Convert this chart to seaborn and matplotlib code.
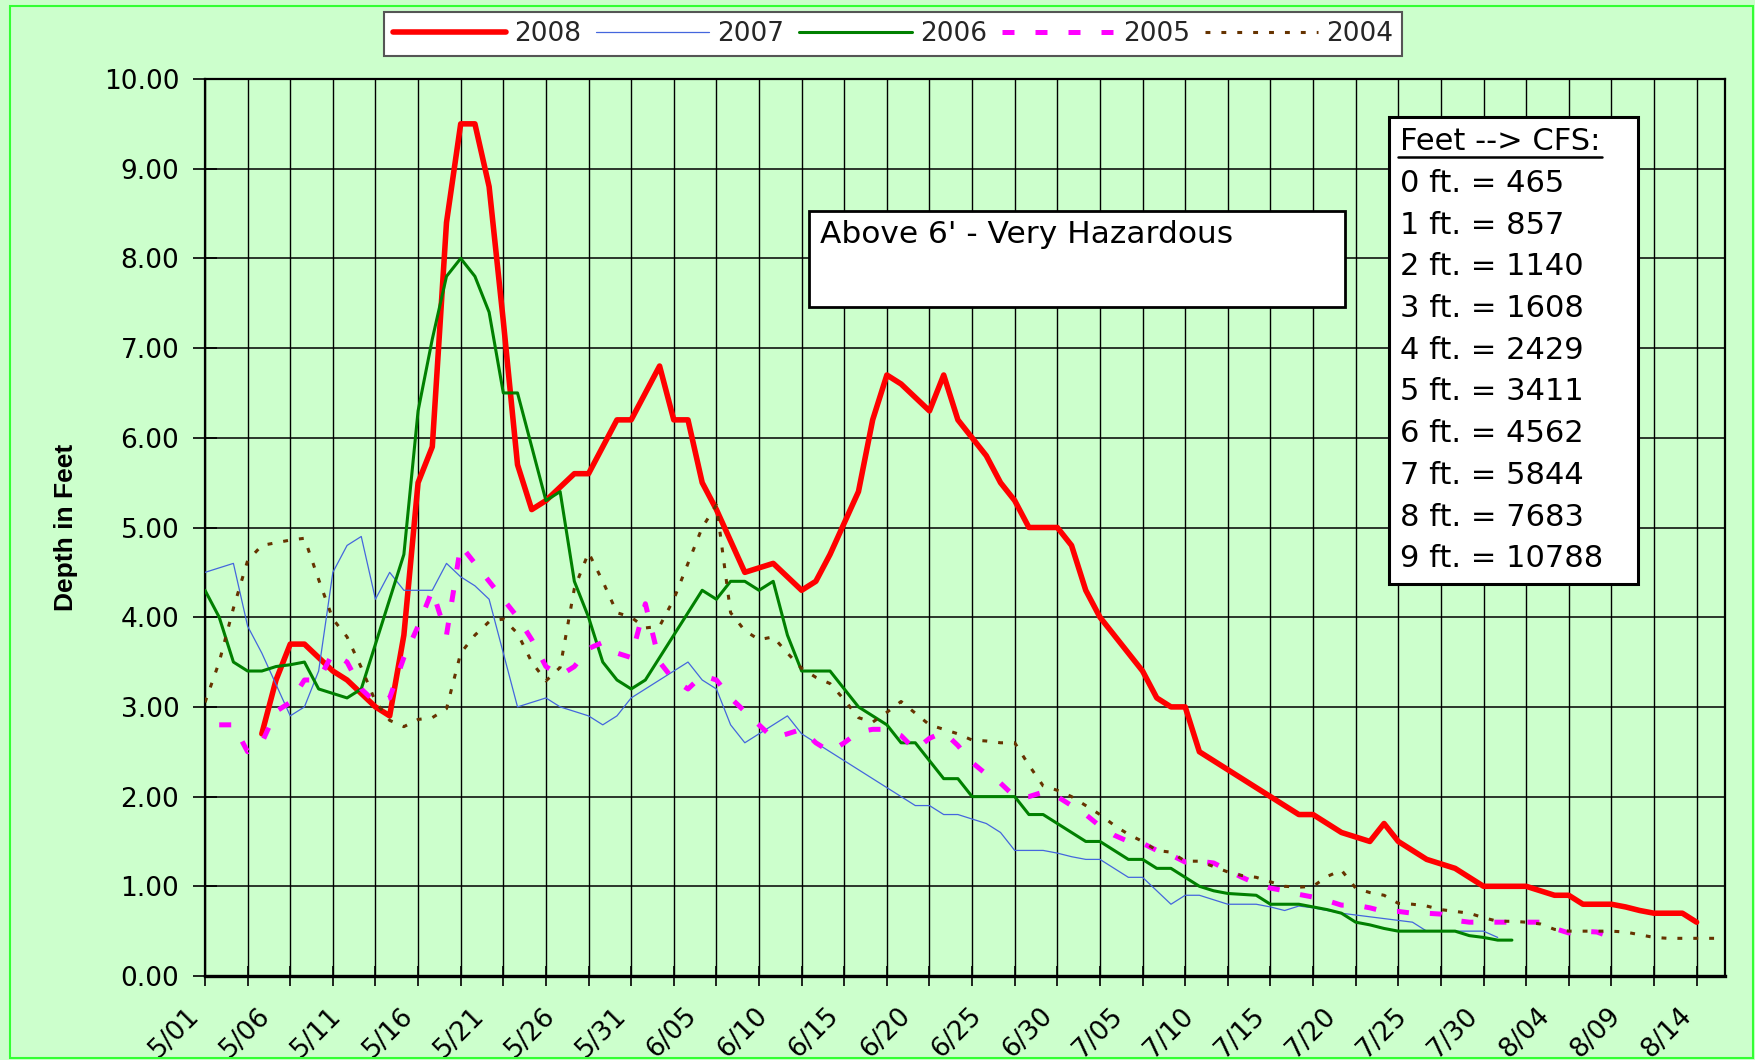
import numpy as np
import pandas as pd
import seaborn as sns
import matplotlib.pyplot as plt
from matplotlib.patches import Rectangle
from matplotlib.lines import Line2D
from matplotlib.ticker import MultipleLocator, FixedLocator, FormatStrFormatter

# River depth (feet) per day, counted from 5/01; each year starts at its own day
start_2008 = 4
depth_2008 = [2.7, 3.3, 3.7, 3.7, 3.55, 3.4, 3.3, 3.15, 3.0, 2.9,
              3.8, 5.5, 5.9, 8.4, 9.5, 9.5, 8.8, 7.3, 5.7, 5.2,
              5.3, 5.45, 5.6, 5.6, 5.9, 6.2, 6.2, 6.5, 6.8, 6.2,
              6.2, 5.5, 5.2, 4.85, 4.5, 4.55, 4.6, 4.45, 4.3, 4.4,
              4.7, 5.05, 5.4, 6.2, 6.7, 6.6, 6.45, 6.3, 6.7, 6.2,
              6.0, 5.8, 5.5, 5.3, 5.0, 5.0, 5.0, 4.8, 4.3, 4.0,
              3.8, 3.6, 3.4, 3.1, 3.0, 3.0, 2.5, 2.4, 2.3, 2.2,
              2.1, 2.0, 1.9, 1.8, 1.8, 1.7, 1.6, 1.55, 1.5, 1.7,
              1.5, 1.4, 1.3, 1.25, 1.2, 1.1, 1.0, 1.0, 1.0, 1.0,
              0.95, 0.9, 0.9, 0.8, 0.8, 0.8, 0.77, 0.73, 0.7, 0.7,
              0.7, 0.6]

start_2007 = 0
depth_2007 = [4.5, 4.55, 4.6, 3.9, 3.6, 3.25, 2.9, 3.0, 3.4, 4.5,
              4.8, 4.9, 4.2, 4.5, 4.3, 4.3, 4.3, 4.6, 4.45, 4.35,
              4.2, 3.6, 3.0, 3.05, 3.1, 3.0, 2.95, 2.9, 2.8, 2.9,
              3.1, 3.2, 3.3, 3.4, 3.5, 3.3, 3.2, 2.8, 2.6, 2.7,
              2.8, 2.9, 2.7, 2.6, 2.5, 2.4, 2.3, 2.2, 2.1, 2.0,
              1.9, 1.9, 1.8, 1.8, 1.75, 1.7, 1.6, 1.4, 1.4, 1.4,
              1.37, 1.33, 1.3, 1.3, 1.2, 1.1, 1.1, 0.95, 0.8, 0.9,
              0.9, 0.85, 0.8, 0.8, 0.8, 0.77, 0.73, 0.78, 0.76, 0.73,
              0.7, 0.68, 0.66, 0.64, 0.62, 0.6, 0.5, 0.5, 0.5, 0.5,
              0.5, 0.43]

start_2006 = 0
depth_2006 = [4.3, 4.0, 3.5, 3.4, 3.4, 3.45, 3.47, 3.5, 3.2, 3.15,
              3.1, 3.2, 3.7, 4.2, 4.7, 6.3, 7.1, 7.8, 8.0, 7.8,
              7.4, 6.5, 6.5, 5.9, 5.3, 5.4, 4.4, 4.0, 3.5, 3.3,
              3.2, 3.3, 3.55, 3.8, 4.05, 4.3, 4.2, 4.4, 4.4, 4.3,
              4.4, 3.8, 3.4, 3.4, 3.4, 3.2, 3.0, 2.9, 2.8, 2.6,
              2.6, 2.4, 2.2, 2.2, 2.0, 2.0, 2.0, 2.0, 1.8, 1.8,
              1.7, 1.6, 1.5, 1.5, 1.4, 1.3, 1.3, 1.2, 1.2, 1.1,
              1.0, 0.95, 0.92, 0.91, 0.9, 0.8, 0.8, 0.8, 0.77, 0.74,
              0.7, 0.6, 0.57, 0.53, 0.5, 0.5, 0.5, 0.5, 0.5, 0.45,
              0.43, 0.4, 0.4]

start_2005 = 1
depth_2005 = [2.8, 2.8, 2.5, 2.6, 2.95, 3.05, 3.3, 3.3, 3.6, 3.5,
              3.2, 3.05, 3.1, 3.55, 3.9, 4.3, 3.8, 4.8, 4.6, 4.4,
              4.2, 4.0, 3.75, 3.45, 3.35, 3.45, 3.65, 3.72, 3.6, 3.55,
              4.15, 3.5, 3.3, 3.2, 3.35, 3.3, 3.1, 2.95, 2.8, 2.65,
              2.7, 2.75, 2.6, 2.5, 2.6, 2.72, 2.75, 2.75, 2.68, 2.52,
              2.65, 2.72, 2.57, 2.38, 2.25, 2.15, 2.0, 2.0, 2.05, 2.0,
              1.9, 1.8, 1.67, 1.57, 1.5, 1.48, 1.4, 1.35, 1.27, 1.28,
              1.26, 1.18, 1.1, 1.03, 0.98, 0.95, 0.91, 0.88, 0.84, 0.79,
              0.79, 0.76, 0.72, 0.72, 0.7, 0.7, 0.69, 0.62, 0.6, 0.6,
              0.6, 0.6, 0.6, 0.6, 0.53, 0.48, 0.5, 0.49, 0.43]

start_2004 = 0
depth_2004 = [3.05, 3.5, 4.1, 4.63, 4.8, 4.83, 4.86, 4.88, 4.42, 3.98,
              3.78, 3.44, 3.06, 2.85, 2.78, 2.86, 2.88, 2.98, 3.6, 3.8,
              3.95, 3.98, 3.82, 3.5, 3.29, 3.44, 4.32, 4.72, 4.4, 4.05,
              4.0, 3.88, 3.9, 4.2, 4.6, 5.0, 5.25, 4.05, 3.85, 3.75,
              3.78, 3.6, 3.43, 3.33, 3.26, 3.08, 2.88, 2.83, 2.94, 3.06,
              2.93, 2.8, 2.75, 2.7, 2.63, 2.62, 2.6, 2.6, 2.35, 2.12,
              2.07, 2.0, 1.9, 1.8, 1.68, 1.58, 1.5, 1.4, 1.38, 1.28,
              1.28, 1.22, 1.16, 1.12, 1.1, 1.05, 1.0, 0.99, 1.0, 1.11,
              1.18, 0.98, 0.93, 0.9, 0.81, 0.8, 0.78, 0.74, 0.72, 0.7,
              0.65, 0.61, 0.61, 0.6, 0.58, 0.52, 0.5, 0.5, 0.5, 0.5,
              0.49, 0.46, 0.43, 0.42, 0.42, 0.42, 0.42, 0.42]

date_labels = ["5/01", "5/06", "5/11", "5/16", "5/21", "5/26", "5/31", "6/05",
               "6/10", "6/15", "6/20", "6/25", "6/30", "7/05", "7/10", "7/15",
               "7/20", "7/25", "7/30", "8/04", "8/09", "8/14"]

cfs_lines = ["0 ft. = 465", "1 ft. = 857", "2 ft. = 1140", "3 ft. = 1608",
             "4 ft. = 2429", "5 ft. = 3411", "6 ft. = 4562", "7 ft. = 5844",
             "8 ft. = 7683", "9 ft. = 10788"]

bg = "#CCFFCC"
W, H = 1756, 1060

sns.set_theme(style="white")
plt.rcParams["font.family"] = ["DejaVu Sans"]

fig = plt.figure(figsize=(W / 100, H / 100), dpi=100, facecolor=bg)
ax = fig.add_axes([205 / W, 1 - 976 / H, 1520 / W, 897 / H])
ax.set_facecolor(bg)

series = [
    ("2008", start_2008, depth_2008, dict(color="#FF0000", lw=4.0)),
    ("2007", start_2007, depth_2007, dict(color="#4466DD", lw=0.9)),
    ("2006", start_2006, depth_2006, dict(color="#008000", lw=2.2)),
    ("2005", start_2005, depth_2005, dict(color="#FF00FF", lw=3.6, linestyle=(0, (2.4, 4.2)))),
    ("2004", start_2004, depth_2004, dict(color="#663300", lw=2.2, linestyle=(0, (1.6, 3.6)))),
]
for i, (name, start, vals, kw) in enumerate(series):
    df = pd.DataFrame({"day": np.arange(start, start + len(vals)), "depth": vals})
    sns.lineplot(data=df, x="day", y="depth", ax=ax, label=name, zorder=3 + i, **kw)

if ax.get_legend() is not None:
    ax.get_legend().remove()

ax.set_xlim(0, 107)
ax.set_ylim(0, 10)
ax.set_xlabel("")

# y axis
ax.yaxis.set_major_locator(MultipleLocator(1))
ax.yaxis.set_major_formatter(FormatStrFormatter("%.2f"))
ax.tick_params(axis="y", which="major", direction="inout", length=17, width=1.2,
               color="black", labelsize=19, labelcolor="black", pad=10, left=True)

# x axis: labels every 5 days, gridlines/ticks every 3 days
ax.xaxis.set_major_locator(FixedLocator(np.arange(0, 5 * len(date_labels), 5)))
ax.set_xticklabels(date_labels, rotation=45, ha="right")
ax.xaxis.set_minor_locator(MultipleLocator(3))
ax.xaxis.remove_overlapping_locs = False
ax.tick_params(axis="x", which="major", length=0, labelsize=19, labelcolor="black", pad=19)
ax.tick_params(axis="x", which="minor", direction="inout", length=15, width=1.2,
               color="black", bottom=True)

ax.grid(False)
ax.grid(axis="x", which="minor", color="black", lw=1.0)
ax.grid(axis="y", which="major", color="black", lw=1.1)
ax.set_axisbelow(True)

for side in ["left", "right", "top"]:
    ax.spines[side].set_visible(True)
    ax.spines[side].set_color("black")
    ax.spines[side].set_linewidth(1.6)
ax.spines["bottom"].set_color("black")
ax.spines["bottom"].set_linewidth(2.4)

ax.set_ylabel("Depth in Feet", fontsize=19, fontweight="bold",
              family=["Liberation Sans", "DejaVu Sans"], color="black")
ax.yaxis.set_label_coords(-0.0836, 0.5)

# legend across the top
handles, labels = ax.get_legend_handles_labels()
leg = fig.legend(handles, labels, loc="center", bbox_to_anchor=(893 / W, 1 - 34 / H),
                 ncol=5, frameon=True, fancybox=False, fontsize=19, handlelength=4.3,
                 handletextpad=0.3, columnspacing=0.55, borderpad=0.35,
                 edgecolor="#555555", framealpha=1, facecolor="white")
leg.get_frame().set_linewidth(1.5)

# hazard note
fig.add_artist(Rectangle((809 / W, 1 - 307 / H), (1345 - 809) / W, (307 - 211) / H,
                         transform=fig.transFigure, facecolor="white",
                         edgecolor="black", lw=2.0, zorder=5))
fig.text(820 / W, 1 - 243 / H, "Above 6' - Very Hazardous", fontsize=22.5,
         ha="left", va="baseline", color="black", zorder=6)

# feet to cfs table
fig.add_artist(Rectangle((1389 / W, 1 - 584 / H), (1638 - 1389) / W, (584 - 117) / H,
                         transform=fig.transFigure, facecolor="white",
                         edgecolor="black", lw=2.2, zorder=5))
header = fig.text(1400 / W, 1 - 150 / H, "Feet --> CFS:", fontsize=22,
                  ha="left", va="baseline", color="black", zorder=6)
for i, line in enumerate(cfs_lines):
    fig.text(1400 / W, 1 - (192 + 41.7 * i) / H, line, fontsize=22,
             ha="left", va="baseline", color="black", zorder=6)

fig.canvas.draw()
bb = header.get_window_extent()
fig.add_artist(Line2D([(bb.x0 - 2) / W, (bb.x1 + 2) / W], [1 - 157 / H, 1 - 157 / H],
                      transform=fig.transFigure, color="black", lw=1.8, zorder=6))

# outer green border
fig.add_artist(Rectangle((10 / W, 2 / H), (1753 - 10) / W, (1058 - 6) / H,
                         transform=fig.transFigure, fill=False,
                         edgecolor="#33FF33", lw=1.5, zorder=10))

fig.savefig("out.png", dpi=100, facecolor=bg)
